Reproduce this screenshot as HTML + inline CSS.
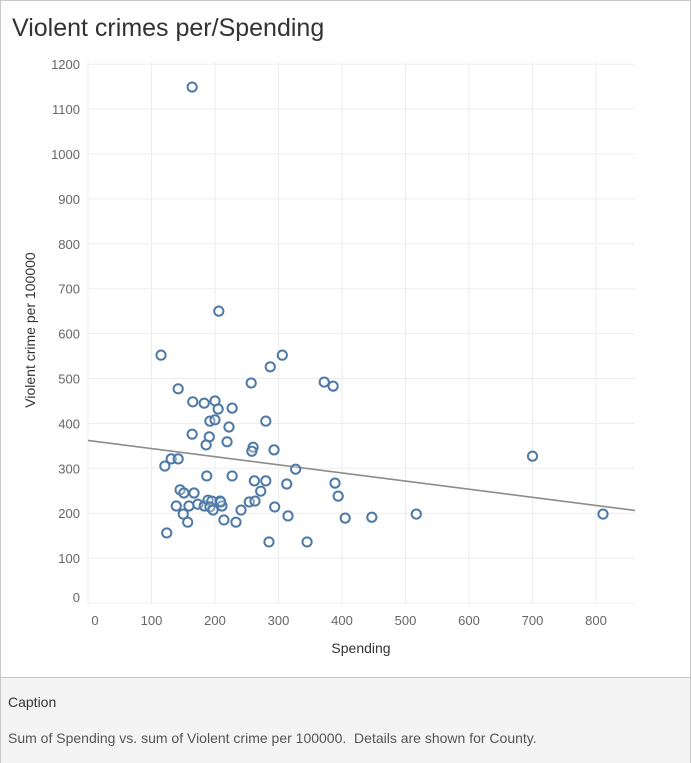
<!DOCTYPE html>
<html><head><meta charset="utf-8">
<style>
body{margin:0;width:691px;height:763px;overflow:hidden;background:#fff;font-family:"Liberation Sans",sans-serif;}
#frame{position:absolute;left:0;top:0;width:689px;height:761px;border:1px solid #c8c8c8;}
#title{position:absolute;left:12px;top:14px;font-size:25px;color:#333;}
#cap{position:absolute;left:1px;top:677px;width:689px;height:85px;background:#f4f4f4;border-top:1px solid #c8c8c8;}
#cap .h{position:absolute;left:7px;top:16px;font-size:14px;color:#333;}
#cap .t{position:absolute;left:7px;top:52px;font-size:14px;color:#555;}
</style></head><body>
<div id="frame"></div>
<div id="title">Violent crimes per/Spending</div>
<svg id="chart" width="691" height="676" style="position:absolute;left:0;top:0"></svg>
<div id="cap">
<div class="h">Caption</div>
<div class="t">Sum of Spending vs. sum of Violent crime per 100000.&nbsp; Details are shown for County.</div>
</div>
<script>
const spending=[164,206,115,306,287,257,372,386,142,165,183,200,205,227,192,200,280,222,164,191,219,186,260,258,293,327,700,121,131,142,187,227,262,280,272,313,389,394,145,151,167,139,159,173,183,189,195,208,192,197,211,209,254,263,241,150,294,315,214,233,157,405,447,517,811,124,285,345];
const crime=[1149,650,552,552,526,490,492,483,477,448,445,450,432,434,405,408,405,392,376,370,359,352,347,338,341,298,327,305,321,321,283,283,272,272,249,265,267,238,252,245,245,216,216,220,216,229,227,227,214,207,216,225,225,227,207,198,214,194,185,180,180,189,191,198,198,156,136,136];
const xTicks=[0,100,200,300,400,500,600,700,800];
const yTicks=[0,100,200,300,400,500,600,700,800,900,1000,1100,1200];
const NS="http://www.w3.org/2000/svg";
const svg=document.getElementById('chart');
const X=v=>88+v*0.635, Y=v=>603-v*0.449;
const L=88,R=635,T=62,B=603;
function mk(t,a){const e=document.createElementNS(NS,t);for(const k in a)e.setAttribute(k,a[k]);svg.appendChild(e);return e;}
yTicks.forEach(v=>{
 const g=mk('line',{x1:L,x2:R,y1:Y(v),y2:Y(v),stroke:'#ededed'});
 
 
 const t=mk('text',{x:80,y:(v===0?Y(v)-6:Y(v))+5,'text-anchor':'end','font-size':13,fill:'#666'});
 t.textContent=v;
 
 
});
xTicks.forEach(v=>{
 const g=mk('line',{x1:X(v),x2:X(v),y1:T,y2:B,stroke:'#ededed'});
 
 
 const t=mk('text',{x:X(v)+(v===0?7:0),y:625,'text-anchor':'middle','font-size':13,fill:'#666'});
 t.textContent=v;
 
 
});
const xt=mk('text',{x:361,y:653,'text-anchor':'middle','font-size':14,fill:'#333'});xt.textContent='Spending';


const yt=mk('text',{x:0,y:0,transform:'translate(35,330) rotate(-90)','text-anchor':'middle','font-size':14,fill:'#333'});yt.textContent='Violent crime per 100000';


// trend line (least squares)
const n=spending.length;let mx=0,my=0;for(let i=0;i<n;i++){mx+=spending[i];my+=crime[i];}mx/=n;my/=n;
let sxy=0,sxx=0;for(let i=0;i<n;i++){sxy+=(spending[i]-mx)*(crime[i]-my);sxx+=(spending[i]-mx)**2;}
const b=sxy/sxx,a=my-b*mx,xmax=(R-88)/0.635;
const tl=mk('line',{x1:X(0),y1:Y(a),x2:X(xmax),y2:Y(a+b*xmax),stroke:'#8c8c8c','stroke-width':1.6});


for(let i=0;i<n;i++){
 const c=mk('circle',{cx:X(spending[i]),cy:Y(crime[i]),r:4.6,fill:'#fff','fill-opacity':0.3,stroke:'#4e79a7','stroke-width':2});
 
 
}
</script>
</body></html>
